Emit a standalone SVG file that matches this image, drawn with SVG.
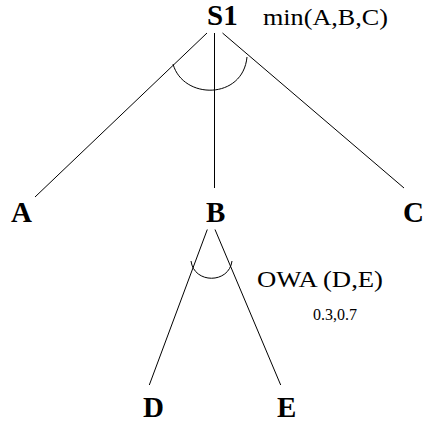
<svg xmlns="http://www.w3.org/2000/svg" width="423" height="425" viewBox="0 0 423 425">
<style>
text{font-family:'Liberation Serif','Times New Roman',Times,serif;fill:#000}
.lbl{font-weight:bold;font-size:29px}
.ann{font-size:23px}
.small{font-size:16px}
.edge{stroke:#000;stroke-width:1;fill:none}
</style>
<rect width="423" height="425" fill="#fff"/>
<g id="connectors">
<line class="edge" x1="207" y1="33" x2="35" y2="197"/>
<line class="edge" x1="214.5" y1="33" x2="214.5" y2="188"/>
<line class="edge" x1="222.5" y1="33" x2="404" y2="188"/>
<path class="edge" d="M173,64 C183,100 243,100 247,57"/>
<line class="edge" x1="207.3" y1="229.5" x2="149.3" y2="385"/>
<line class="edge" x1="215" y1="229.5" x2="280.7" y2="385"/>
<path class="edge" d="M191,261 C194,284 229,284 232,261"/>
</g>
<g id="S1"><text class="lbl" x="207" y="25">S1</text></g>
<g id="S1-label"><text class="ann" x="263" y="25" textLength="125" lengthAdjust="spacingAndGlyphs">min(A,B,C)</text></g>
<g id="A"><text class="lbl" x="11" y="222">A</text></g>
<g id="B"><text class="lbl" x="206" y="222">B</text></g>
<g id="C"><text class="lbl" x="403" y="222">C</text></g>
<g id="B-label"><text class="ann" x="257" y="287" textLength="126" lengthAdjust="spacingAndGlyphs">OWA (D,E)</text><text class="small" x="313" y="320">0.3,0.7</text></g>
<g id="D"><text class="lbl" x="143" y="417">D</text></g>
<g id="E"><text class="lbl" x="277" y="417">E</text></g>
</svg>
